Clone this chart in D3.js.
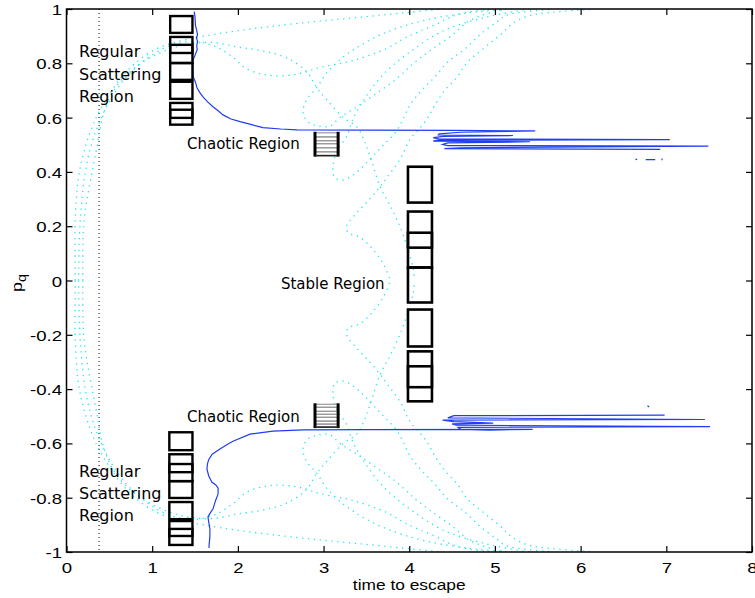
<!DOCTYPE html>
<html>
<head>
<meta charset="utf-8">
<script src="https://cdn.jsdelivr.net/npm/d3@7"></script>
<style>
  body { margin: 0; background: #fff; }
  svg { display: block; }
</style>
</head>
<body>
<svg id="chart" width="755" height="598"></svg>
<script>
// ---- axis ticks ----
const xTicks = [0, 1, 2, 3, 4, 5, 6, 7, 8];
const xTickLabels = ["0", "1", "2", "3", "4", "5", "6", "7", "8"];
const yTicks = [-1, -0.8, -0.6, -0.4, -0.2, 0, 0.2, 0.4, 0.6, 0.8, 1];
const yTickLabels = ["-1", "-0.8", "-0.6", "-0.4", "-0.2", "0", "0.2", "0.4", "0.6", "0.8", "1"];

// ---- reference time (dotted vertical) ----
const refTime = 0.38;

// ---- escape-time curve, upper and lower branches [time, p_q] ----
const escapeUpper = [
  [1.49, 0.99], [1.50, 0.97], [1.505, 0.94], [1.52, 0.92], [1.53, 0.905], [1.515, 0.895], [1.53, 0.88],
  [1.52, 0.865], [1.525, 0.85], [1.50, 0.83], [1.477, 0.813], [1.476, 0.78], [1.478, 0.75], [1.50, 0.735],
  [1.51, 0.725], [1.523, 0.71], [1.56, 0.69], [1.593, 0.676], [1.65, 0.657], [1.709, 0.64], [1.77, 0.625],
  [1.826, 0.61], [1.92, 0.595], [2.025, 0.585], [2.15, 0.575], [2.293, 0.563], [2.5, 0.558], [2.69, 0.555],
  [3.5, 0.554], [4.5, 0.553], [5.47, 0.551],
  [4.6, 0.546], [4.35, 0.54], [4.34, 0.536], [5.21, 0.534], [4.4, 0.531], [4.28, 0.526], [4.35, 0.521],
  [7.04, 0.519], [4.32, 0.516], [4.28, 0.513], [5.41, 0.511], [4.45, 0.507], [4.39, 0.501], [4.45, 0.497],
  [7.49, 0.495], [4.6, 0.489], [4.41, 0.486], [6.93, 0.483]
];
const escapeLower = [
  [1.663, -0.985], [1.665, -0.97], [1.672, -0.95], [1.674, -0.915], [1.66, -0.89], [1.651, -0.871],
  [1.68, -0.855], [1.709, -0.842], [1.74, -0.81], [1.768, -0.787], [1.77, -0.765], [1.74, -0.752],
  [1.698, -0.743], [1.66, -0.72], [1.639, -0.695], [1.645, -0.675], [1.66, -0.66], [1.70, -0.64],
  [1.791, -0.621], [1.87, -0.605], [1.943, -0.592], [2.141, -0.566], [2.41, -0.555], [2.76, -0.55],
  [3.5, -0.549], [5.44, -0.548],
  [4.94, -0.551], [4.6, -0.548], [4.57, -0.541], [7.51, -0.538], [4.55, -0.533], [4.5, -0.528],
  [4.98, -0.525], [4.52, -0.52], [4.39, -0.514], [7.45, -0.512], [4.45, -0.506], [4.52, -0.498], [6.98, -0.496]
];
const escapeSpecks = [
  [[6.64, 0.447], [6.66, 0.445]],
  [[6.76, 0.445], [6.87, 0.445]],
  [[6.95, 0.449], [6.95, 0.443]],
  [[6.78, -0.461], [6.80, -0.466]]
];

// ---- classical branches (dotted cyan), [time, p_q] ----
const branchA_top = [[0.10,0],[0.10,0.1],[0.10,0.2],[0.115,0.3],[0.14,0.38],[0.2,0.47],[0.28,0.55],[0.36,0.61],[0.47,0.67],[0.62,0.74],[0.8,0.8],[1.06,0.855],[1.3,0.88],[1.6,0.9],[2.0,0.92],[2.5,0.94],[3.0,0.957],[3.5,0.972],[4.0,0.988],[4.4,1.0]];
const branchA_bot = [[0.10,0],[0.10,-0.1],[0.10,-0.2],[0.115,-0.3],[0.14,-0.38],[0.2,-0.47],[0.28,-0.55],[0.36,-0.61],[0.47,-0.67],[0.62,-0.74],[0.8,-0.8],[1.06,-0.855],[1.3,-0.88],[1.6,-0.9],[2.0,-0.92],[2.5,-0.94],[3.0,-0.957],[3.5,-0.972],[4.0,-0.988],[4.4,-1.0]];
const branchB_top = [[0.14,0],[0.145,0.1],[0.155,0.19],[0.18,0.3],[0.22,0.4],[0.29,0.5],[0.38,0.58],[0.5,0.66],[0.7,0.75],[0.95,0.82],[1.21,0.865],[1.5,0.88],[1.75,0.86],[1.95,0.82],[2.1,0.78],[2.34,0.757],[2.57,0.755],[2.76,0.765],[2.96,0.785],[3.34,0.81],[3.74,0.855],[3.93,0.89],[4.10,0.915],[4.32,0.945],[4.48,0.97],[4.7,0.99],[5.0,1.0]];
const branchB_bot = [[0.14,0],[0.145,-0.1],[0.155,-0.19],[0.18,-0.3],[0.22,-0.4],[0.29,-0.5],[0.38,-0.58],[0.5,-0.66],[0.7,-0.75],[0.95,-0.82],[1.21,-0.865],[1.5,-0.88],[1.75,-0.86],[1.95,-0.82],[2.1,-0.78],[2.34,-0.757],[2.57,-0.755],[2.76,-0.765],[2.96,-0.785],[3.34,-0.81],[3.74,-0.855],[3.93,-0.89],[4.10,-0.915],[4.32,-0.945],[4.48,-0.97],[4.7,-0.99],[5.0,-1.0]];
const branchC_top = [[0.19,0],[0.19,0.1],[0.2,0.2],[0.24,0.3],[0.3,0.4],[0.36,0.5],[0.42,0.6],[0.55,0.7],[0.78,0.78],[1.1,0.84],[1.4,0.87],[1.7,0.877],[2.0,0.86],[2.3,0.845],[2.57,0.82],[2.8,0.77],[2.92,0.71],[3.04,0.665],[3.23,0.6],[3.39,0.565],[3.48,0.51],[3.56,0.44],[3.66,0.346],[3.77,0.28],[3.89,0.2],[3.98,0.12],[4.05,0.04],[4.06,0]];
const branchC_bot = [[0.19,0],[0.19,-0.1],[0.2,-0.2],[0.24,-0.3],[0.3,-0.4],[0.36,-0.5],[0.42,-0.6],[0.55,-0.7],[0.78,-0.78],[1.1,-0.84],[1.4,-0.87],[1.7,-0.877],[2.0,-0.86],[2.3,-0.845],[2.57,-0.82],[2.8,-0.77],[2.92,-0.71],[3.04,-0.665],[3.23,-0.6],[3.39,-0.565],[3.48,-0.51],[3.56,-0.44],[3.66,-0.346],[3.77,-0.28],[3.89,-0.2],[3.98,-0.12],[4.05,-0.04],[4.06,0]];
const branchD_top = [[5.2,1.0],[4.8,0.99],[4.2,0.96],[3.7,0.91],[3.3,0.84],[3.05,0.77],[2.92,0.71],[2.8,0.665],[2.76,0.62],[2.8,0.59],[2.88,0.574],[3.07,0.568],[3.19,0.6],[3.39,0.64],[3.62,0.69],[3.86,0.745],[4.07,0.805],[4.27,0.853],[4.5,0.904],[4.68,0.952],[4.88,0.98],[5.1,0.996]];
const branchD_bot = [[5.2,-1.0],[4.8,-0.99],[4.2,-0.96],[3.7,-0.91],[3.3,-0.84],[3.05,-0.77],[2.92,-0.71],[2.8,-0.665],[2.76,-0.62],[2.8,-0.59],[2.88,-0.574],[3.07,-0.568],[3.19,-0.6],[3.39,-0.64],[3.62,-0.69],[3.86,-0.745],[4.07,-0.805],[4.27,-0.853],[4.5,-0.904],[4.68,-0.952],[4.88,-0.98],[5.1,-0.996]];
const branchE_top = [[5.4,1.0],[4.9,0.97],[4.4,0.92],[4.0,0.84],[3.7,0.76],[3.5,0.68],[3.35,0.6],[3.27,0.53],[3.16,0.48],[3.11,0.42],[3.13,0.38],[3.23,0.37],[3.39,0.4],[3.55,0.45],[3.7,0.5],[3.85,0.55],[3.93,0.596],[4.01,0.647],[4.15,0.702],[4.3,0.75],[4.45,0.805],[4.65,0.853],[4.82,0.904],[5.02,0.952],[5.14,0.978],[5.64,0.998]];
const branchE_bot = [[5.4,-1.0],[4.9,-0.97],[4.4,-0.92],[4.0,-0.84],[3.7,-0.76],[3.5,-0.68],[3.35,-0.6],[3.27,-0.53],[3.16,-0.48],[3.11,-0.42],[3.13,-0.38],[3.23,-0.37],[3.39,-0.4],[3.55,-0.45],[3.7,-0.5],[3.85,-0.55],[3.93,-0.596],[4.01,-0.647],[4.15,-0.702],[4.3,-0.75],[4.45,-0.805],[4.65,-0.853],[4.82,-0.904],[5.02,-0.952],[5.14,-0.978],[5.64,-0.998]];
const branchG_top = [[6.11,0.998],[5.44,0.978],[5.23,0.952],[5.06,0.904],[4.86,0.853],[4.68,0.805],[4.56,0.75],[4.42,0.702],[4.3,0.647],[4.21,0.596],[4.12,0.56],[4.01,0.52],[3.89,0.445],[3.74,0.38],[3.66,0.346],[3.54,0.3],[3.39,0.25],[3.27,0.2],[3.29,0.175],[3.42,0.16],[3.56,0.12],[3.7,0.06],[3.78,0]];
const branchG_bot = [[6.11,-0.998],[5.44,-0.978],[5.23,-0.952],[5.06,-0.904],[4.86,-0.853],[4.68,-0.805],[4.56,-0.75],[4.42,-0.702],[4.3,-0.647],[4.21,-0.596],[4.12,-0.56],[4.01,-0.52],[3.89,-0.445],[3.74,-0.38],[3.66,-0.346],[3.54,-0.3],[3.39,-0.25],[3.27,-0.2],[3.29,-0.175],[3.42,-0.16],[3.56,-0.12],[3.7,-0.06],[3.78,0]];

// ---- phase-space cells [t0, t1, p0, p1] ----
const regularUpperCells = [
  [1.21, 1.47, 0.912, 0.974], [1.21, 1.47, 0.838, 0.897], [1.21, 1.47, 0.801, 0.868],
  [1.21, 1.47, 0.739, 0.801], [1.21, 1.47, 0.669, 0.732], [1.21, 1.47, 0.574, 0.654],
  [1.21, 1.47, 0.599, 0.629]
];
const regularLowerCells = [
  [1.20, 1.47, -0.625, -0.559], [1.20, 1.47, -0.706, -0.640], [1.20, 1.47, -0.739, -0.676],
  [1.20, 1.47, -0.801, -0.739], [1.20, 1.47, -0.879, -0.816], [1.20, 1.47, -0.974, -0.886],
  [1.20, 1.47, -0.941, -0.915]
];
const stableCells = [
  [3.985, 4.265, 0.287, 0.419], [3.985, 4.265, 0.121, 0.254], [3.985, 4.265, 0.048, 0.176],
  [3.985, 4.265, -0.081, 0.048], [3.985, 4.265, -0.243, -0.107], [3.985, 4.265, -0.445, -0.261],
  [3.985, 4.265, -0.393, -0.316]
];
const chaoticUpperCells = [
  [2.90, 3.17, 0.529, 0.544], [2.90, 3.17, 0.515, 0.529], [2.90, 3.17, 0.504, 0.515],
  [2.90, 3.17, 0.489, 0.504], [2.90, 3.17, 0.474, 0.489], [2.90, 3.17, 0.460, 0.474]
];
const chaoticLowerCells = [
  [2.90, 3.17, -0.467, -0.456], [2.90, 3.17, -0.482, -0.467], [2.90, 3.17, -0.493, -0.482],
  [2.90, 3.17, -0.504, -0.493], [2.90, 3.17, -0.518, -0.504], [2.90, 3.17, -0.529, -0.518],
  [2.90, 3.17, -0.540, -0.529]
];

// ---- region annotations [text, time, p_q, size] ----
const regionLabels = [
  ["Regular", 0.146, 0.824, 16], ["Scattering", 0.146, 0.739, 16], ["Region", 0.146, 0.658, 16],
  ["Regular", 0.146, -0.724, 16], ["Scattering", 0.146, -0.805, 16], ["Region", 0.146, -0.886, 16],
  ["Chaotic Region", 1.406, 0.485, 15], ["Chaotic Region", 1.406, -0.522, 15],
  ["Stable Region", 2.503, -0.033, 15]
];

// ---- layout ----
const plot = { left: 66.5, right: 752, top: 9, bottom: 552 };
const x = d3.scaleLinear().domain([0, 8]).range([plot.left, plot.right]);
const y = d3.scaleLinear().domain([-1, 1]).range([plot.bottom, plot.top]);

const svg = d3.select("#chart");
const tickFont = "'Liberation Sans', Arial, Helvetica, sans-serif";
const noteFont = "'DejaVu Sans', Verdana, sans-serif";

// clip so curves stay inside the frame
svg.append("defs").append("clipPath").attr("id", "plotClip")
  .append("rect").attr("x", plot.left).attr("y", plot.top)
  .attr("width", plot.right - plot.left).attr("height", plot.bottom - plot.top);

const body = svg.append("g").attr("clip-path", "url(#plotClip)");

// dotted reference line
body.append("line")
  .attr("x1", x(refTime)).attr("x2", x(refTime))
  .attr("y1", y(1)).attr("y2", y(-1))
  .attr("stroke", "#000").attr("stroke-width", 1)
  .attr("stroke-dasharray", "1,3");

// cyan dotted branches
const branches = [branchA_top, branchA_bot, branchB_top, branchB_bot, branchC_top, branchC_bot,
  branchD_top, branchD_bot, branchE_top, branchE_bot, branchG_top, branchG_bot];
const smooth = d3.line().x(d => x(d[0])).y(d => y(d[1])).curve(d3.curveCatmullRom.alpha(0.5));
body.selectAll("path.branch").data(branches).join("path")
  .attr("class", "branch")
  .attr("d", smooth)
  .attr("fill", "none")
  .attr("stroke", "#22e6f2")
  .attr("stroke-width", 1.3)
  .attr("stroke-dasharray", "1.3,4.6");

// escape-time curve
const straight = d3.line().x(d => x(d[0])).y(d => y(d[1]));
body.selectAll("path.escape").data([escapeUpper, escapeLower, ...escapeSpecks]).join("path")
  .attr("class", "escape")
  .attr("d", straight)
  .attr("fill", "none")
  .attr("stroke", "#1f3df5")
  .attr("stroke-width", 1.2)
  .attr("stroke-linejoin", "miter");

// phase-space cells
const cellGroup = svg.append("g");
function drawCells(cells, width) {
  cellGroup.append("g").selectAll("rect").data(cells).join("rect")
    .attr("x", d => x(d[0]))
    .attr("y", d => y(d[3]))
    .attr("width", d => x(d[1]) - x(d[0]))
    .attr("height", d => y(d[2]) - y(d[3]))
    .attr("fill", "none")
    .attr("stroke", "#000")
    .attr("stroke-width", width);
}
drawCells(regularUpperCells, 2.4);
drawCells(regularLowerCells, 2.4);
drawCells(stableCells, 2.6);

function drawThinCells(cells) {
  const g = cellGroup.append("g");
  g.selectAll("rect").data(cells).join("rect")
    .attr("x", d => x(d[0]))
    .attr("y", d => y(d[3]))
    .attr("width", d => x(d[1]) - x(d[0]))
    .attr("height", d => y(d[2]) - y(d[3]))
    .attr("fill", "none")
    .attr("stroke", "#9a9a9a")
    .attr("stroke-width", 1.2);
  const top = d3.max(cells, d => d[3]), bot = d3.min(cells, d => d[2]);
  const t0 = cells[0][0], t1 = cells[0][1];
  g.selectAll("line").data([t0, t1]).join("line")
    .attr("x1", d => x(d)).attr("x2", d => x(d))
    .attr("y1", y(top) - 1).attr("y2", y(bot) + 1)
    .attr("stroke", "#000").attr("stroke-width", 3);
  g.append("line").attr("x1", x(t0)).attr("x2", x(t1)).attr("y1", y(bot)).attr("y2", y(bot))
    .attr("stroke", "#222").attr("stroke-width", 1.6);
}
drawThinCells(chaoticUpperCells);
drawThinCells(chaoticLowerCells);

// frame
svg.append("rect")
  .attr("x", plot.left).attr("y", plot.top)
  .attr("width", plot.right - plot.left).attr("height", plot.bottom - plot.top)
  .attr("fill", "none").attr("stroke", "#000").attr("stroke-width", 1.5);

// axes with inward ticks
const stretch = "scale(1.24,1)";
const gxb = svg.append("g").attr("transform", `translate(0,${plot.bottom})`)
  .call(d3.axisBottom(x).tickValues(xTicks).tickFormat((d, i) => xTickLabels[i]).tickSize(-6));
const gxt = svg.append("g").attr("transform", `translate(0,${plot.top})`)
  .call(d3.axisTop(x).tickValues(xTicks).tickFormat("").tickSize(-6));
const gyl = svg.append("g").attr("transform", `translate(${plot.left},0)`)
  .call(d3.axisLeft(y).tickValues(yTicks).tickFormat((d, i) => yTickLabels[i]).tickSize(-6));
const gyr = svg.append("g").attr("transform", `translate(${plot.right},0)`)
  .call(d3.axisRight(y).tickValues(yTicks).tickFormat("").tickSize(-6));

[gxb, gxt, gyl, gyr].forEach(g => {
  g.select(".domain").remove();
  g.selectAll(".tick line").attr("stroke", "#000").attr("stroke-width", 1.2);
});
gxb.selectAll(".tick text")
  .attr("y", 0).attr("dy", null).attr("transform", `translate(0,21) ${stretch}`)
  .attr("font-family", tickFont).attr("font-size", 15).attr("fill", "#000");
gyl.selectAll(".tick text")
  .attr("x", 0).attr("dy", null).attr("transform", `translate(-4.5,5.5) ${stretch}`)
  .attr("font-family", tickFont).attr("font-size", 15).attr("fill", "#000");

// axis titles
svg.append("text")
  .attr("transform", `translate(${(plot.left + plot.right) / 2},590) ${stretch}`)
  .attr("text-anchor", "middle")
  .attr("font-family", tickFont).attr("font-size", 14)
  .text("time to escape");

const yTitle = svg.append("text")
  .attr("transform", "translate(22,283) rotate(-90) scale(1.2,1)")
  .attr("text-anchor", "middle")
  .attr("font-family", tickFont).attr("font-size", 15);
yTitle.append("tspan").text("p");
yTitle.append("tspan").attr("dy", 4).attr("font-size", 12).text("q");

// region annotations
svg.append("g").selectAll("text").data(regionLabels).join("text")
  .attr("x", d => x(d[1]))
  .attr("y", d => y(d[2]))
  .attr("font-family", noteFont)
  .attr("font-size", d => d[3])
  .attr("fill", "#000")
  .text(d => d[0]);
</script>
</body>
</html>
